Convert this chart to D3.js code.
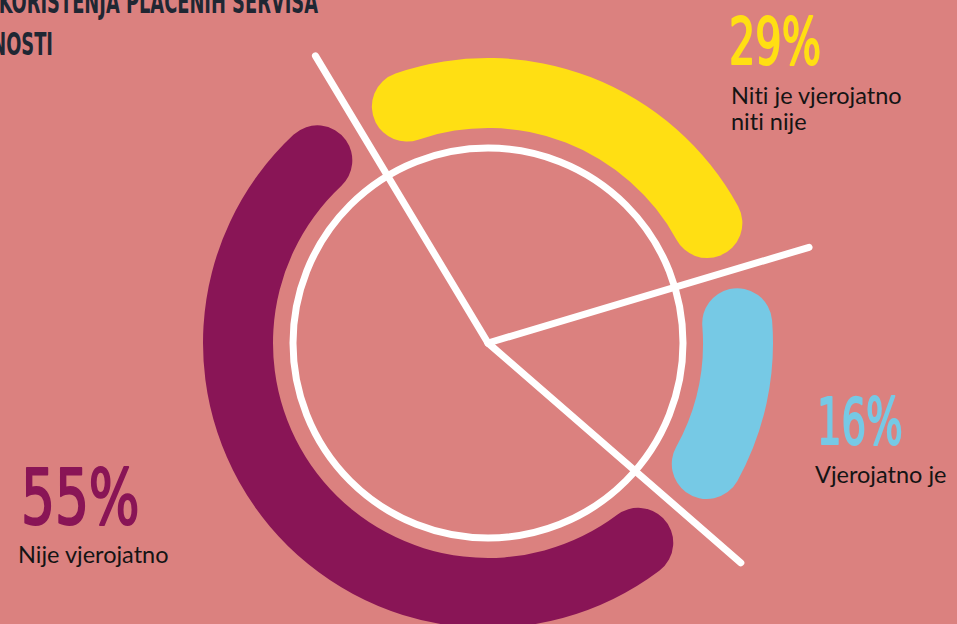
<!DOCTYPE html>
<html>
<head>
<meta charset="utf-8">
<script src="https://cdn.jsdelivr.net/npm/d3@7"></script>
<style>
  html, body { margin: 0; padding: 0; background: #db817f; overflow: hidden; }
  svg { display: block; }
</style>
</head>
<body>
<svg id="chart" width="957" height="624"></svg>
<script>
// data
var categories = ['Niti je vjerojatno niti nije', 'Vjerojatno je', 'Nije vjerojatno'];
var values = [29, 16, 55];
var labelLines = [['Niti je vjerojatno', 'niti nije'], ['Vjerojatno je'], ['Nije vjerojatno']];
var colors = ['#ffdf13', '#76c9e5', '#891556'];
var titleLines = ['VJEROJATNOST KORIŠTENJA PLAĆENIH SERVISA', 'U BUDUĆNOSTI'];

var width = 957, height = 624;
var cx = 488, cy = 343;
var deg = Math.PI / 180;

var svg = d3.select('#chart');

svg.append('rect')
  .attr('width', width)
  .attr('height', height)
  .style('fill', '#db817f');

var pie = d3.pie()
  .sort(null)
  .value(function(d) { return d; })
  .startAngle(-31 * deg)
  .endAngle(329 * deg);

var slices = pie(values);

var arc = d3.arc()
  .innerRadius(215)
  .outerRadius(285)
  .cornerRadius(35);

var g = svg.append('g')
  .attr('transform', 'translate(' + cx + ',' + cy + ')');

// coloured bands, inset a bit from the slice borders
g.selectAll('path.band')
  .data(slices)
  .enter()
  .append('path')
  .attr('class', 'band')
  .attr('d', function(d) {
    return arc({ startAngle: d.startAngle + 0.07, endAngle: d.endAngle - 0.07 });
  })
  .style('fill', function(d, i) { return colors[i]; });

// white ring
g.append('circle')
  .attr('r', 195)
  .style('fill', 'none')
  .style('stroke', '#fff')
  .style('stroke-width', 7);

// slice borders
g.selectAll('line.border')
  .data(slices)
  .enter()
  .append('line')
  .attr('class', 'border')
  .attr('x1', 0)
  .attr('y1', 0)
  .attr('x2', function(d) { return 335 * Math.sin(d.startAngle); })
  .attr('y2', function(d) { return -335 * Math.cos(d.startAngle); })
  .style('stroke', '#fff')
  .style('stroke-width', 7)
  .style('stroke-linecap', 'round');

// labels
var numPos = [
  { x: 729, y: 64, size: 64, sx: 0.72 },
  { x: 817, y: 444, size: 64, sx: 0.67 },
  { x: 21, y: 524, size: 76, sx: 0.78 }
];
var txtPos = [
  { x: 731, y: 104 },
  { x: 815, y: 483 },
  { x: 18, y: 563 }
];

values.forEach(function(v, i) {
  var p = numPos[i];
  svg.append('text')
    .attr('class', 'pct')
    .attr('transform', 'translate(' + p.x + ',' + p.y + ') scale(' + p.sx + ',1)')
    .style('font-family', '"DejaVu Sans Condensed", "DejaVu Sans", sans-serif')
    .style('font-size', p.size + 'px')
    .style('fill', colors[i])
    .style('stroke', colors[i])
    .style('stroke-width', 2)
    .style('stroke-linejoin', 'round')
    .text(v + '%');

  var t = txtPos[i];
  labelLines[i].forEach(function(line, j) {
    svg.append('text')
      .attr('x', t.x)
      .attr('y', t.y + j * 26)
      .style('font-family', 'Lato, "Open Sans", sans-serif')
      .style('font-size', '23.5px')
      .style('font-variant-ligatures', 'none')
      .style('fill', '#141414')
      .text(line);
  });
});

// title, cut by the left/top edge as in the original
svg.append('text')
  .attr('transform', 'translate(318,13) scale(0.62,1)')
  .attr('text-anchor', 'end')
  .style('font-family', '"DejaVu Sans Condensed", "DejaVu Sans", sans-serif')
  .style('font-weight', 'bold')
  .style('font-size', '32px')
  .style('fill', '#1f2733')
  .text(titleLines[0]);

svg.append('text')
  .attr('transform', 'translate(53,55) scale(0.62,1)')
  .attr('text-anchor', 'end')
  .style('font-family', '"DejaVu Sans Condensed", "DejaVu Sans", sans-serif')
  .style('font-weight', 'bold')
  .style('font-size', '32px')
  .style('fill', '#1f2733')
  .text(titleLines[1]);
</script>
</body>
</html>
